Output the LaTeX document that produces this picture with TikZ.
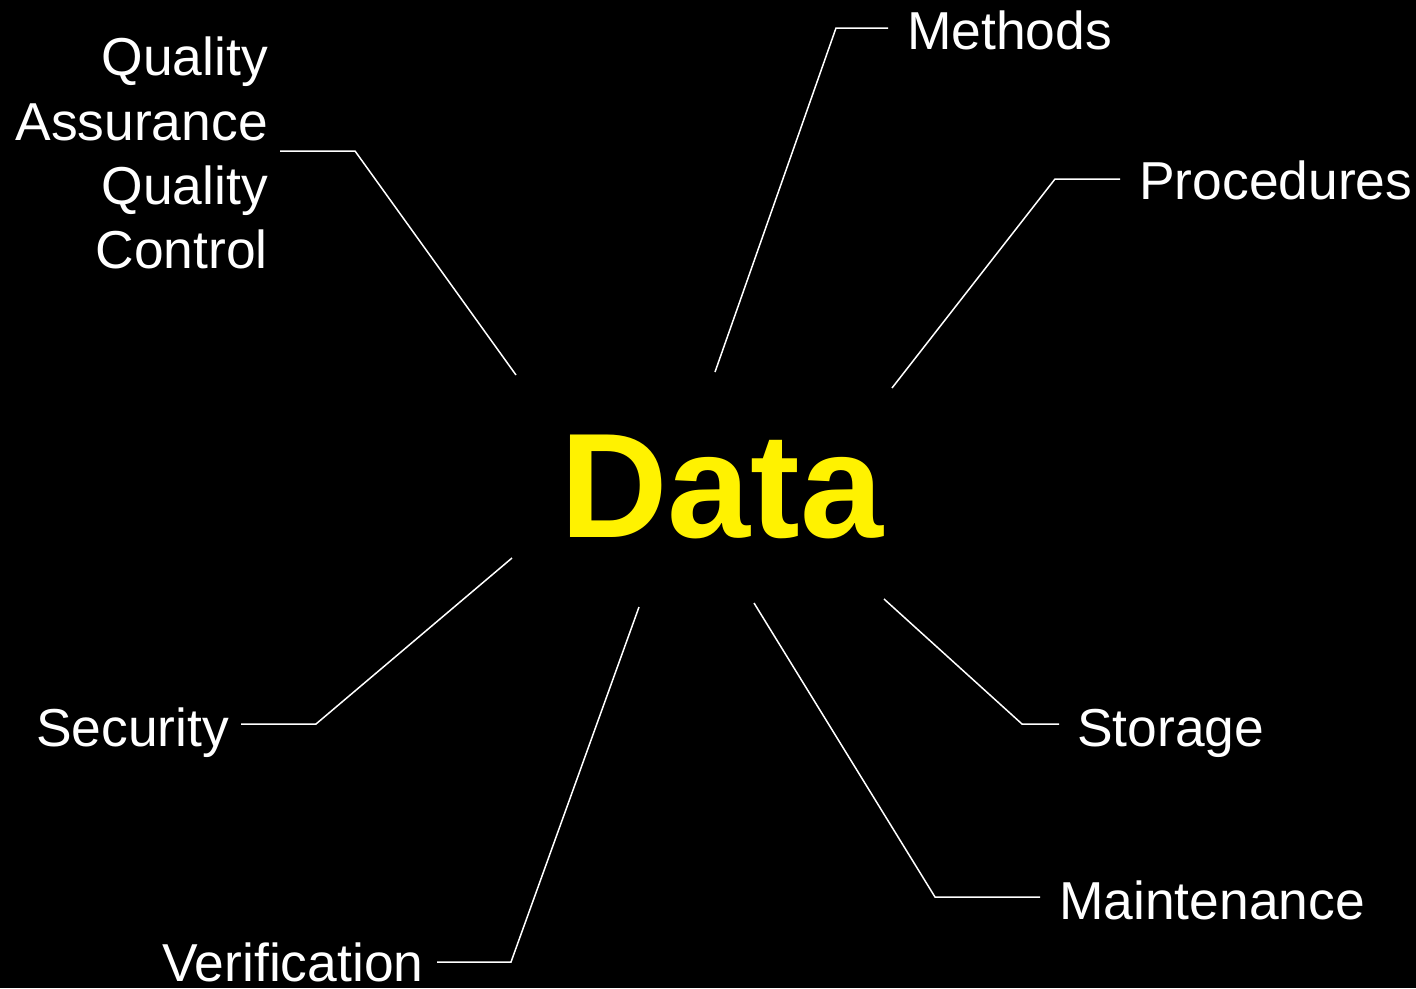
\documentclass[tikz,border=0pt]{standalone}
\usepackage{fontspec}
\setmainfont{Liberation Sans}
\begin{document}
\begin{tikzpicture}[x=1pt,y=-1pt,
  lbl/.style={text=white,inner sep=0pt,font=\fontsize{53.4}{64.5}\selectfont},
  conn/.style={draw=white,line width=1.5pt}]
\fill[black] (0,0) rectangle (1416,988);
\useasboundingbox (0,0) rectangle (1416,988);
\node[inner sep=0pt,anchor=base west,text=yellow,font=\fontsize{149}{160}\selectfont\bfseries] (data) at (560,537) {Data};
\node[lbl,anchor=base west] (methods) at (907,49) {Methods};
\node[lbl,anchor=base west] (procedures) at (1139,199) {Procedures};
\node[lbl,anchor=base east] (qa1) at (268,75) {Quality};
\node[lbl,anchor=base east] (qa2) at (268,140) {Assurance};
\node[lbl,anchor=base east] (qa3) at (268,204) {Quality};
\node[lbl,anchor=base east] (qa4) at (268,268) {Control};
\node[lbl,anchor=base west] (security) at (36,746) {Security};
\node[lbl,anchor=base west] (verification) at (162,981) {Verification};
\node[lbl,anchor=base west] (maintenance) at (1059,919) {Maintenance};
\node[lbl,anchor=base west] (storage) at (1077,746) {Storage};
% connector ends
\coordinate (mA) at (888,28);   \coordinate (mB) at (715,372);
\coordinate (pA) at (1120,179); \coordinate (pB) at (892,388);
\coordinate (qA) at (280,151);  \coordinate (qB) at (516,375);
\coordinate (sA) at (241,724);  \coordinate (sB) at (512,558);
\coordinate (vA) at (437,962);  \coordinate (vB) at (639,607);
\coordinate (tA) at (1040,897); \coordinate (tB) at (754,603);
\coordinate (gA) at (1059,724); \coordinate (gB) at (884,599);
\draw[conn] (mA) -- (836,28) -- (mB);
\draw[conn] (pA) -- (1055,179) -- (pB);
\draw[conn] (qA) -- (355,151) -- (qB);
\draw[conn] (sA) -- (316,724) -- (sB);
\draw[conn] (vA) -- (511,962) -- (vB);
\draw[conn] (tA) -- (935,897) -- (tB);
\draw[conn] (gA) -- (1022,724) -- (gB);
\end{tikzpicture}
\end{document}
